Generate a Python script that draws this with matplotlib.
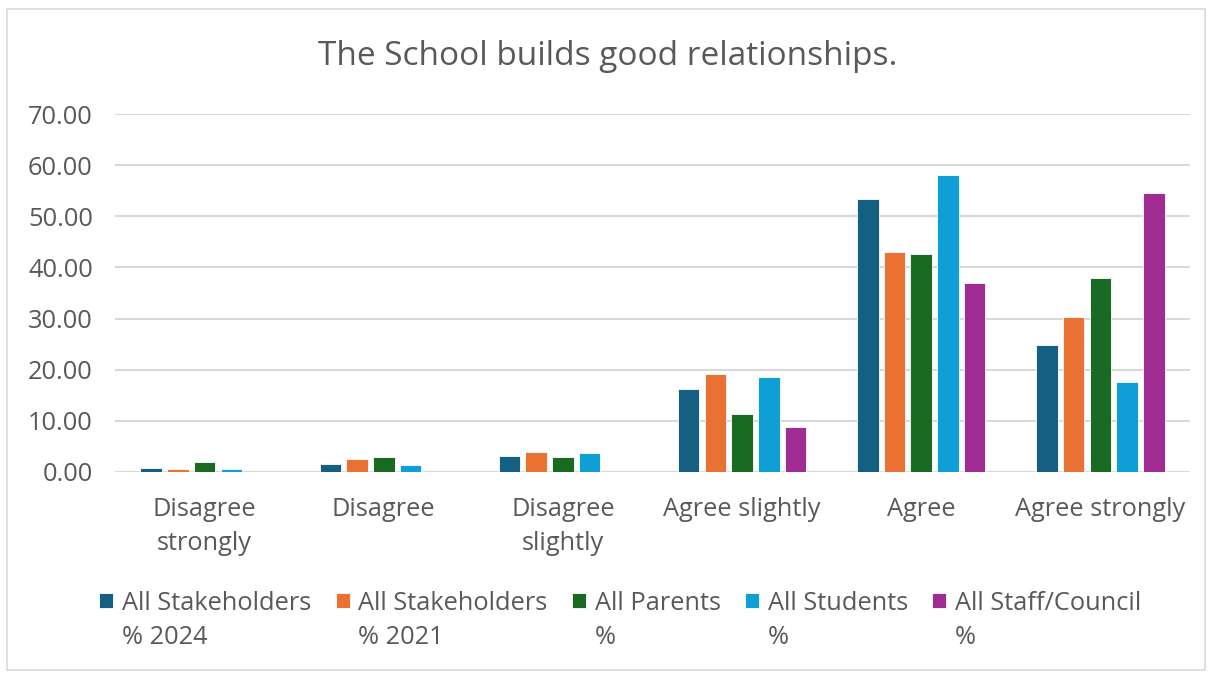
import numpy as np
import matplotlib
matplotlib.use("Agg")
import matplotlib.pyplot as plt
from matplotlib.patches import Rectangle
from matplotlib.container import BarContainer
from matplotlib.legend_handler import HandlerPatch, update_from_first_child

plt.rcParams['font.family'] = ['Open Sans', 'DejaVu Sans']

# data
categories = ["Disagree\nstrongly", "Disagree", "Disagree\nslightly",
              "Agree slightly", "Agree", "Agree strongly"]
series_names = ["All Stakeholders\n% 2024", "All Stakeholders\n% 2021",
                "All Parents\n%", "All Students\n%", "All Staff/Council\n%"]
stake_2024 = [0.7, 1.5, 3.1, 16.2, 53.3, 24.9]
stake_2021 = [0.5, 2.6, 4.0, 19.2, 43.0, 30.3]
parents = [1.9, 2.9, 2.9, 11.3, 42.7, 38.0]
students = [0.5, 1.3, 3.7, 18.6, 58.1, 17.5]
staff = [0.0, 0.0, 0.0, 8.7, 36.9, 54.5]
colors = ["#156082", "#E97132", "#196B24", "#0F9ED5", "#A02B93"]

series = [stake_2024, stake_2021, parents, students, staff]

fig = plt.figure(figsize=(12.16, 6.73), dpi=100)
ax = fig.add_axes([0.0946, 0.2987, 0.8840, 0.5319])

x = np.arange(len(categories))
step = 0.149
width = 0.12
for i, (vals, name, c) in enumerate(zip(series, series_names, colors)):
    ax.bar(x + (i - 2) * step, vals, width, color=c, label=name,
           edgecolor="white", linewidth=0.6, zorder=3)

ax.set_xlim(-0.5, len(categories) - 0.5)
ax.set_ylim(0, 70)
ax.set_yticks(np.arange(0, 71, 10))
ax.set_yticklabels([f"{v:.2f}" for v in np.arange(0, 71, 10)])
ax.set_xticks(x)
ax.set_xticklabels(categories, linespacing=1.45)
ax.grid(axis="y", color="#d9d9d9", linewidth=1.5, zorder=0)
for s in ax.spines.values():
    s.set_visible(False)
ax.tick_params(axis="both", length=0, labelsize=18.3, colors="#595959")
ax.tick_params(axis="y", pad=16)
ax.tick_params(axis="x", pad=18)

fig.suptitle("The School builds good relationships.", fontsize=24,
             color="#595959", y=0.94)


# legend squares sit next to the first line of each label
def top_square(legend, orig_handle, xdescent, ydescent, width, height, fontsize):
    return Rectangle((-xdescent, -ydescent + 15), width, height)


leg = ax.legend(loc="upper center", bbox_to_anchor=(0.47, -0.268), ncol=5,
                frameon=False, fontsize=18.3, handlelength=0.55, handleheight=0.55,
                handletextpad=0.35, columnspacing=0.95, labelcolor="#595959",
                handler_map={BarContainer: HandlerPatch(
                    patch_func=top_square, update_func=update_from_first_child)})
for t in leg.get_texts():
    t.set_linespacing(1.5)

fig.patches.append(Rectangle((0.006, 0.005), 0.985, 0.982, transform=fig.transFigure,
                             fill=False, edgecolor="#d9d9d9", linewidth=1.2))

fig.savefig("out.png", dpi=100)
